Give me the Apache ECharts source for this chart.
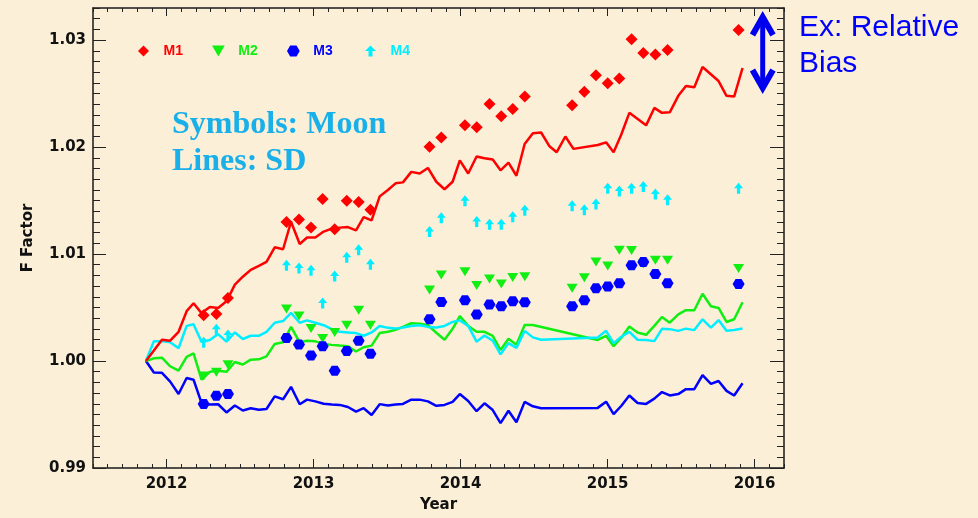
<!DOCTYPE html>
<html>
<head>
<meta charset="utf-8">
<script src="https://cdn.jsdelivr.net/npm/echarts@6/dist/echarts.min.js"></script>
<style>
  html, body { margin: 0; padding: 0; background: #fbefd8; }
  #chart { width: 978px; height: 518px; }
</style>
</head>
<body>
<div id="chart"></div>
<script>
// SD (solar diffuser) dates, decimal years
const sdDates = [
  2011.860, 2011.914, 2011.969, 2012.025, 2012.082, 2012.137, 2012.184, 2012.238, 2012.295, 2012.351,
  2012.408, 2012.465, 2012.519, 2012.573, 2012.628, 2012.680, 2012.736, 2012.793, 2012.847, 2012.906,
  2012.956, 2013.012, 2013.069, 2013.124, 2013.178, 2013.234, 2013.289, 2013.341, 2013.395, 2013.450,
  2013.506, 2013.558, 2013.608, 2013.665, 2013.722, 2013.778, 2013.835, 2013.891, 2013.946, 2013.995,
  2014.052, 2014.109, 2014.163, 2014.219, 2014.272, 2014.326, 2014.380, 2014.436, 2014.492, 2014.548,
  2014.605, 2014.654, 2014.713, 2014.768,
  2014.933, 2014.990, 2015.041, 2015.094, 2015.148, 2015.204, 2015.262, 2015.318, 2015.370, 2015.423,
  2015.481, 2015.533, 2015.590, 2015.646, 2015.703, 2015.755, 2015.809, 2015.861, 2015.918
];
const sdM1 = [
  1.00000, 1.00098, 1.00199, 1.00190, 1.00273, 1.00466, 1.00540, 1.00448, 1.00506, 1.00496,
  1.00558, 1.00714, 1.00788, 1.00852, 1.00889, 1.00926, 1.01063, 1.01045, 1.01302, 1.01094,
  1.01155, 1.01155, 1.01210, 1.01238, 1.01247, 1.01252, 1.01222, 1.01346, 1.01314, 1.01539,
  1.01599, 1.01661, 1.01670, 1.01768, 1.01753, 1.01805, 1.01676, 1.01606, 1.01676, 1.01875,
  1.01753, 1.01912, 1.01895, 1.01884, 1.01783, 1.01854, 1.01732, 1.02029, 1.02130, 1.02136,
  1.02007, 1.01952, 1.02099, 1.01983,
  1.02019, 1.02044, 1.01952, 1.02120, 1.02320, null, 1.02203, 1.02366, 1.02320, 1.02325,
  1.02479, 1.02571, 1.02559, 1.02748, null, 1.02617, 1.02479, 1.02472, 1.02739
];
const sdM2 = [
  1.00000, 1.00025, 1.00031, 0.99951, 0.99910, 1.00039, 1.00071, 0.99827, 0.99899, 0.99908,
  0.99899, 0.99991, 0.99967, 1.00013, 1.00016, 1.00043, 1.00160, 1.00175, 1.00319, 1.00175,
  1.00190, 1.00184, 1.00160, 1.00151, 1.00144, 1.00138, 1.00089, 1.00129, 1.00144, 1.00261,
  1.00273, 1.00291, 1.00319, 1.00353, 1.00349, 1.00337, 1.00264, 1.00199, 1.00301, 1.00420,
  1.00328, 1.00273, 1.00273, 1.00236, 1.00103, 1.00209, 1.00153, 1.00337, 1.00337, null,
  null, null, null, null,
  1.00197, 1.00236, 1.00138, 1.00218, 1.00322, 1.00267, 1.00245, 1.00328, 1.00411, 1.00358,
  1.00436, 1.00475, 1.00475, 1.00629, 1.00512, 1.00496, 1.00365, 1.00390, 1.00549
];
const sdM3 = [
  1.00000, 0.99893, 0.99890, 0.99807, 0.99692, 0.99841, 0.99825, 0.99608, 0.99593, 0.99596,
  0.99519, 0.99584, 0.99538, 0.99559, 0.99545, 0.99551, 0.99669, 0.99643, 0.99758, 0.99596,
  0.99639, 0.99623, 0.99600, 0.99593, 0.99590, 0.99570, 0.99527, 0.99559, 0.99496, 0.99597,
  0.99584, 0.99593, 0.99599, 0.99639, 0.99639, 0.99623, 0.99581, 0.99590, 0.99618, 0.99691,
  0.99627, 0.99531, 0.99605, 0.99542, 0.99420, 0.99535, 0.99427, 0.99618, 0.99577, 0.99559,
  null, null, null, null,
  0.99562, 0.99620, 0.99504, 0.99582, 0.99678, 0.99608, 0.99599, 0.99648, 0.99710, 0.99678,
  0.99691, 0.99737, 0.99737, 0.99869, 0.99786, 0.99813, 0.99721, 0.99678, 0.99792
];
const sdM4 = [
  1.00000, 1.00184, 1.00186, 1.00175, 1.00119, 1.00328, 1.00344, 1.00181, 1.00197, 1.00252,
  1.00181, 1.00267, 1.00206, 1.00236, 1.00236, 1.00273, 1.00358, 1.00374, 1.00450, 1.00358,
  1.00380, 1.00358, 1.00335, 1.00298, 1.00273, 1.00267, 1.00261, 1.00236, 1.00267, 1.00328,
  1.00310, 1.00303, 1.00314, 1.00328, 1.00335, 1.00319, 1.00313, 1.00328, 1.00365, 1.00380,
  1.00328, 1.00181, 1.00239, 1.00190, 1.00062, 1.00167, 1.00123, 1.00282, 1.00221, 1.00199,
  null, null, null, null,
  1.00221, 1.00282, 1.00167, 1.00227, 1.00273, 1.00199, 1.00197, 1.00186, 1.00301, 1.00298,
  1.00282, 1.00303, 1.00289, 1.00390, 1.00313, 1.00383, 1.00282, 1.00291, 1.00303
];

// Moon observation dates and F factors
const moonDates = [
  2012.253, 2012.339, 2012.418, 2012.816, 2012.901, 2012.983, 2013.062, 2013.144, 2013.226, 2013.307,
  2013.387, 2013.789, 2013.869, 2014.030, 2014.110, 2014.197, 2014.277, 2014.355, 2014.437, 2014.759,
  2014.842, 2014.921, 2015.001, 2015.080, 2015.163, 2015.243, 2015.325, 2015.408, 2015.891
];
const moonM1 = [
  1.00429, 1.00440, 1.00588, 1.01300, 1.01324, 1.01247, 1.01514, 1.01232, 1.01498, 1.01486,
  1.01415, 1.02004, 1.02090, 1.02203, 1.02185, 1.02403, 1.02289, 1.02357, 1.02472, 1.02390,
  1.02518, 1.02672, 1.02596, 1.02642, 1.03009, 1.02880, 1.02865, 1.02908, 1.03095
];
const moonM2 = [
  0.99859, 0.99896, 0.99965, 1.00487, 1.00420, 1.00303, 1.00211, 1.00267, 1.00335, 1.00475,
  1.00335, 1.00665, 1.00803, 1.00834, 1.00705, 1.00767, 1.00721, 1.00781, 1.00788, 1.00680,
  1.00778, 1.00926, 1.00889, 1.01036, 1.01033, 1.00907, 1.00941, 1.00941, 1.00866
];
const moonM3 = [
  0.99599, 0.99676, 0.99692, 1.00215, 1.00155, 1.00052, 1.00138, 0.99908, 1.00094, 1.00190,
  1.00069, 1.00390, 1.00551, 1.00567, 1.00436, 1.00528, 1.00512, 1.00558, 1.00549, 1.00512,
  1.00567, 1.00680, 1.00696, 1.00726, 1.00895, 1.00926, 1.00813, 1.00726, 1.00721
];
const moonM4 = [
  1.00175, 1.00298, 1.00243, 1.00895, 1.00870, 1.00849, 1.00542, 1.00795, 1.00971, 1.01039,
  1.00904, 1.01210, 1.01339, 1.01498, 1.01305, 1.01278, 1.01278, 1.01348, 1.01410, 1.01452,
  1.01415, 1.01468, 1.01615, 1.01590, 1.01615, 1.01631, 1.01562, 1.01507, 1.01615
];

const yearTicks = [2012, 2013, 2014, 2015, 2016];
const factorTicks = [0.99, 1.00, 1.01, 1.02, 1.03];

const RED = '#ff0000';
const GREEN = '#11ee11';
const BLUE = '#0000ff';
const CYAN = '#00eeff';

const SYM_DIAMOND = 'path://M5,0 L10,5 L5,10 L0,5 Z';
const SYM_TRI_DOWN = 'path://M0,0 L10,0 L5,8.66 Z';
const SYM_HEX = 'path://M2.5,0 L7.5,0 L10,4.33 L7.5,8.66 L2.5,8.66 L0,4.33 Z';
const SYM_ARROW = 'path://M5,0 L10,5 L6.8,5 L6.8,10 L3.2,10 L3.2,5 L0,5 Z';

function pairs(dates, values) {
  return dates.map(function (d, i) { return [d, values[i]]; });
}

const tickFont = { color: '#111', fontFamily: 'DejaVu Sans', fontWeight: 'bold', fontSize: 15 };

function sdLine(name, color, values) {
  return {
    name: name,
    type: 'line',
    data: pairs(sdDates, values),
    showSymbol: false,
    symbol: 'none',
    connectNulls: true,
    lineStyle: { color: color, width: 2.5 },
    itemStyle: { color: color },
    z: 2
  };
}

function moonScatter(name, color, symbol, size, values) {
  return {
    name: name,
    type: 'scatter',
    data: pairs(moonDates, values),
    symbol: symbol,
    symbolSize: size,
    symbolKeepAspect: false,
    itemStyle: { color: color, opacity: 1 },
    z: 3
  };
}

function legendAt(name, color, left) {
  return {
    show: true,
    selectedMode: false,
    left: left,
    top: 44,
    padding: 0,
    itemWidth: 30,
    itemHeight: 11,
    data: [{ name: name, textStyle: { color: color } }],
    textStyle: { fontFamily: 'Liberation Sans', fontWeight: 'bold', fontSize: 14 }
  };
}

const chart = echarts.init(document.getElementById('chart'), null, { renderer: 'canvas', width: 978, height: 518 });

const option = {
  animation: false,
  backgroundColor: '#fbefd8',
  grid: { left: 93, right: 194, top: 8, bottom: 44 },
  legend: [
    legendAt('M1', RED, 138),
    legendAt('M2', GREEN, 212),
    legendAt('M3', BLUE, 287),
    legendAt('M4', CYAN, 365)
  ],
  xAxis: [
    {
      // minor ticks + bottom line
      type: 'value', position: 'bottom', min: 2011.5, max: 2016.2, interval: 0.1,
      axisLine: { show: true, onZero: false, lineStyle: { color: '#1a1a1a', width: 1.5 } },
      axisTick: { show: true, inside: true, length: 4, lineStyle: { color: '#222' } },
      axisLabel: { show: false },
      splitLine: { show: false },
      name: 'Year', nameLocation: 'middle', nameGap: 30,
      nameTextStyle: { color: '#111', fontFamily: 'DejaVu Sans', fontWeight: 'bold', fontSize: 15 }
    },
    {
      // year ticks + labels
      type: 'value', position: 'bottom', min: 2011.5, max: 2016.2,
      axisLine: { show: false, onZero: false },
      axisTick: { show: true, inside: true, length: 9, customValues: yearTicks, lineStyle: { color: '#222' } },
      axisLabel: Object.assign({ customValues: yearTicks, margin: 9, formatter: function (v) { return String(Math.round(v)); } }, tickFont),
      splitLine: { show: false }
    },
    {
      type: 'value', position: 'top', min: 2011.5, max: 2016.2, interval: 0.1,
      axisLine: { show: true, onZero: false, lineStyle: { color: '#1a1a1a', width: 1.5 } },
      axisTick: { show: true, inside: true, length: 4, lineStyle: { color: '#222' } },
      axisLabel: { show: false },
      splitLine: { show: false }
    },
    {
      type: 'value', position: 'top', min: 2011.5, max: 2016.2,
      axisLine: { show: false, onZero: false },
      axisTick: { show: true, inside: true, length: 8, customValues: yearTicks, lineStyle: { color: '#222' } },
      axisLabel: { show: false },
      splitLine: { show: false }
    }
  ],
  yAxis: [
    {
      type: 'value', position: 'left', min: 0.99, max: 1.033, interval: 0.001,
      axisLine: { show: true, onZero: false, lineStyle: { color: '#1a1a1a', width: 1.5 } },
      axisTick: { show: true, inside: true, length: 7, lineStyle: { color: '#222' } },
      axisLabel: { show: false },
      splitLine: { show: false }
    },
    {
      type: 'value', position: 'left', min: 0.99, max: 1.033,
      axisLine: { show: false, onZero: false },
      axisTick: { show: true, inside: true, length: 13, customValues: factorTicks, lineStyle: { color: '#222' } },
      axisLabel: Object.assign({ customValues: factorTicks, margin: 7, formatter: function (v) { return v.toFixed(2); } }, tickFont),
      splitLine: { show: false },
      name: 'F Factor', nameLocation: 'middle', nameGap: 57, nameRotate: 90,
      nameTextStyle: { color: '#111', fontFamily: 'DejaVu Sans', fontWeight: 'bold', fontSize: 15 }
    },
    {
      type: 'value', position: 'right', min: 0.99, max: 1.033, interval: 0.001,
      axisLine: { show: true, onZero: false, lineStyle: { color: '#1a1a1a', width: 1.5 } },
      axisTick: { show: true, inside: true, length: 7, lineStyle: { color: '#222' } },
      axisLabel: { show: false },
      splitLine: { show: false }
    },
    {
      type: 'value', position: 'right', min: 0.99, max: 1.033,
      axisLine: { show: false, onZero: false },
      axisTick: { show: true, inside: true, length: 14, customValues: factorTicks, lineStyle: { color: '#222' } },
      axisLabel: { show: false },
      splitLine: { show: false }
    }
  ],
  series: [
    sdLine('SD M3', BLUE, sdM3),
    sdLine('SD M2', GREEN, sdM2),
    sdLine('SD M4', CYAN, sdM4),
    sdLine('SD M1', RED, sdM1),
    moonScatter('M1', RED, SYM_DIAMOND, [12, 12], moonM1),
    moonScatter('M2', GREEN, SYM_TRI_DOWN, [11, 9], moonM2),
    moonScatter('M3', BLUE, SYM_HEX, [12, 10], moonM3),
    moonScatter('M4', CYAN, SYM_ARROW, [9, 11], moonM4)
  ],
  graphic: [
    {
      type: 'text', z: 10,
      style: {
        text: 'Symbols: Moon', x: 172, y: 125, verticalAlign: 'middle',
        fill: '#19b0ea', font: 'bold 32px "Liberation Serif", "Times New Roman", serif'
      }
    },
    {
      type: 'text', z: 10,
      style: {
        text: 'Lines: SD', x: 172, y: 162, verticalAlign: 'middle',
        fill: '#19b0ea', font: 'bold 32px "Liberation Serif", "Times New Roman", serif'
      }
    },
    {
      type: 'text', z: 10,
      style: {
        text: 'Ex: Relative', x: 799, y: 28, verticalAlign: 'middle',
        fill: '#0000ff', font: '30px "Liberation Sans", Arial, sans-serif'
      }
    },
    {
      type: 'text', z: 10,
      style: {
        text: 'Bias', x: 799, y: 64, verticalAlign: 'middle',
        fill: '#0000ff', font: '30px "Liberation Sans", Arial, sans-serif'
      }
    },
    // double-headed arrow next to the plot
    {
      type: 'polyline', z: 10,
      shape: { points: [[762.7, 19], [762.7, 86]] },
      style: { stroke: '#0000ee', lineWidth: 5, fill: null }
    },
    {
      type: 'polyline', z: 10,
      shape: { points: [[752.5, 35], [762.7, 17], [773, 35]] },
      style: { stroke: '#0000ee', lineWidth: 6, fill: null, lineJoin: 'miter' }
    },
    {
      type: 'polyline', z: 10,
      shape: { points: [[752.5, 70], [762.7, 88], [773, 70]] },
      style: { stroke: '#0000ee', lineWidth: 6, fill: null, lineJoin: 'miter' }
    }
  ]
};

chart.setOption(option);
</script>
</body>
</html>
